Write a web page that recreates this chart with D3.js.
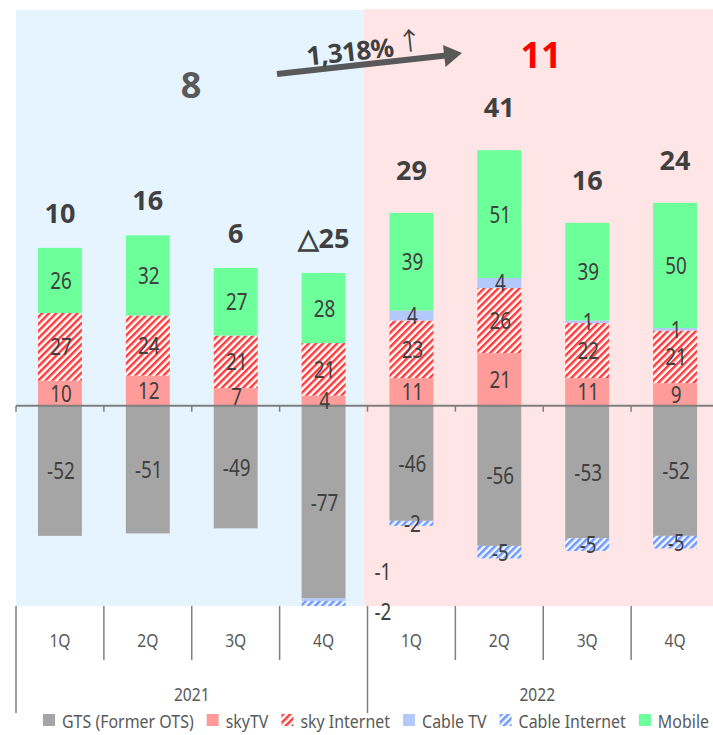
<!DOCTYPE html>
<html>
<head>
<meta charset="utf-8">
<script src="https://cdn.jsdelivr.net/npm/d3@7/dist/d3.min.js"></script>
<style>
  html, body { margin: 0; padding: 0; background: #ffffff; }
  svg { display: block; font-family: "Noto Sans", "Open Sans", sans-serif; }
</style>
</head>
<body>
<svg id="chart" width="713" height="735"></svg>
<script>
// Quarterly operating profit contribution by business line
const years = ["2021", "2022"];
const quarters = ["1Q", "2Q", "3Q", "4Q"];
const categories = ["2021-1Q", "2021-2Q", "2021-3Q", "2021-4Q", "2022-1Q", "2022-2Q", "2022-3Q", "2022-4Q"];

const seriesNames = ["GTS (Former OTS)", "skyTV", "sky Internet", "Cable TV", "Cable Internet", "Mobile"];
const gtsValues           = [-52, -51, -49, -77, -46, -56, -53, -52];
const skyTVValues         = [10, 12, 7, 4, 11, 21, 11, 9];
const skyInternetValues   = [27, 24, 21, 21, 23, 26, 22, 21];
const cableTVValues       = [0, 0, 0, -1, 4, 4, 1, 1];
const cableInternetValues = [0, 0, 0, -2, -2, -5, -5, -5];
const mobileValues        = [26, 32, 27, 28, 39, 51, 39, 50];

const totalLabels = ["10", "16", "6", "△25", "29", "41", "16", "24"];
const yearTotals = ["8", "11"];
const growthLabel = "1,318%";

const yDomain = [-80, 158];

// ---- layout ----
const svg = d3.select("#chart");
const W = 713;
const plotTop = 10, plotBottom = 606;

const x = d3.scaleBand().domain(categories).range([16, 719]).paddingInner(0.5).paddingOuter(0.25);
const y = d3.scaleLinear().domain(yDomain).range([plotBottom, plotTop]);
const step = x.step();
const boundary = i => 16 + i * step;
const cx = c => x(c) + x.bandwidth() / 2;

const colors = {
  "GTS (Former OTS)": "#a5a5a5",
  "skyTV": "#ff9b99",
  "sky Internet": "url(#hatchRed)",
  "Cable TV": "#b3c8fb",
  "Cable Internet": "url(#hatchBlue)",
  "Mobile": "#6cff9a"
};

// condensed text helper: real text, narrowed horizontally
function narrowText(sel, px, py, sx) {
  return sel.attr("transform", `translate(${px},${py}) scale(${sx},1)`);
}

// hatch patterns
const defs = svg.append("defs");
function hatch(id, color, bg) {
  const p = defs.append("pattern").attr("id", id)
    .attr("patternUnits", "userSpaceOnUse")
    .attr("width", 5).attr("height", 5)
    .attr("patternTransform", "rotate(45)");
  p.append("rect").attr("width", 5).attr("height", 5).attr("fill", bg);
  p.append("rect").attr("width", 2.5).attr("height", 5).attr("fill", color);
}
hatch("hatchRed", "#ff3b3b", "#ffffff");
hatch("hatchBlue", "#6f99ff", "#f2f6ff");

// year background panels
const yearBg = ["#e5f4ff", "#ffe5e5"];
const panelEdges = [16, boundary(4) - 4, W];
years.forEach((yr, i) => {
  svg.append("rect").attr("x", panelEdges[i]).attr("y", plotTop - i)
    .attr("width", panelEdges[i + 1] - panelEdges[i]).attr("height", plotBottom - plotTop + i)
    .attr("fill", yearBg[i]);
});

// build stacks: positives upward, negatives downward
const seriesValues = [gtsValues, skyTVValues, skyInternetValues, cableTVValues, cableInternetValues, mobileValues];
const segments = [];
const stackTop = [];
categories.forEach((c, ci) => {
  let pos = 0, neg = 0;
  seriesNames.forEach((s, si) => {
    const v = seriesValues[si][ci];
    if (v === 0) return;
    let y0, y1;
    if (v > 0) { y0 = pos; y1 = pos + v; pos = y1; }
    else { y0 = neg; y1 = neg + v; neg = y1; }
    segments.push({ cat: c, ci, series: s, value: v, y0, y1 });
  });
  stackTop.push(pos);
});

svg.append("g").selectAll("rect").data(segments).join("rect")
  .attr("x", d => x(d.cat))
  .attr("width", x.bandwidth())
  .attr("y", d => y(Math.max(d.y0, d.y1)))
  .attr("height", d => Math.abs(y(d.y0) - y(d.y1)))
  .attr("fill", d => colors[d.series]);

// zero axis with small ticks
const axisG = svg.append("g");
axisG.append("line").attr("x1", 16).attr("x2", W).attr("y1", y(0)).attr("y2", y(0))
  .attr("stroke", "#7f7f7f").attr("stroke-width", 2);
d3.range(0, 8).forEach(i => {
  axisG.append("line").attr("x1", boundary(i)).attr("x2", boundary(i))
    .attr("y1", y(0)).attr("y2", y(0) + 6)
    .attr("stroke", "#7f7f7f").attr("stroke-width", 1.5);
});

// segment value labels
const outsideCat = "2021-4Q";
const isCable = d => d.series === "Cable TV" || d.series === "Cable Internet";
const insideSegs = segments.filter(d => !(d.cat === outsideCat && isCable(d)));
svg.append("g").attr("fill", "#404040").attr("font-size", 23).attr("text-anchor", "middle")
  .selectAll("text").data(insideSegs).join("text")
  .each(function (d) { narrowText(d3.select(this), cx(d.cat) + 1, y((d.y0 + d.y1) / 2) + 8.5, 0.82); })
  .text(d => d.value);

// small cable segments of 2021 4Q labelled beside the bar
const outsideSegs = segments.filter(d => d.cat === outsideCat && isCable(d));
svg.append("g").attr("fill", "#404040").attr("font-size", 23)
  .selectAll("text").data(outsideSegs).join("text")
  .each(function (d, i) { narrowText(d3.select(this), x(d.cat) + x.bandwidth() + 29, y(d.y1) - 21 + i * 35, 0.82); })
  .text(d => d.value);

// quarter totals above bars
svg.append("g").attr("fill", "#404040").attr("font-size", 27).attr("font-weight", "bold")
  .attr("text-anchor", "middle")
  .selectAll("text").data(categories).join("text")
  .attr("x", c => cx(c))
  .attr("y", (c, i) => y(stackTop[i]) - (i < 4 ? 25 : 33))
  .text((c, i) => totalLabels[i]);

// annual totals
svg.append("text").attr("x", 191).attr("y", 98).attr("text-anchor", "middle")
  .attr("font-size", 36).attr("font-weight", "bold").attr("fill", "#595959").text(yearTotals[0]);
svg.append("text").attr("x", 541).attr("y", 68).attr("text-anchor", "middle")
  .attr("font-size", 36).attr("font-weight", "bold").attr("fill", "#ff0000").text(yearTotals[1]);

// growth arrow
const arrowG = svg.append("g");
arrowG.append("line").attr("x1", 277).attr("y1", 74).attr("x2", 446).attr("y2", 55.5)
  .attr("stroke", "#595959").attr("stroke-width", 6);
arrowG.append("path").attr("d", "M462,53 L443,45 L445.5,67 Z").attr("fill", "#595959");
const gl = arrowG.append("g").attr("transform", "translate(351,61) rotate(-6)");
gl.append("text").attr("text-anchor", "middle").attr("font-size", 26).attr("font-weight", "bold")
  .attr("fill", "#404040").attr("letter-spacing", -0.5).text(growthLabel);
gl.append("text").attr("x", 48).attr("y", -5).attr("font-size", 25)
  .attr("font-family", "'Noto Sans CJK JP', 'Noto Sans CJK SC', sans-serif")
  .attr("fill", "#404040").text("↑");

// category axis below the plot
const catAxis = svg.append("g").attr("stroke", "#7f7f7f").attr("stroke-width", 1.5);
d3.range(0, 8).forEach(i => {
  const full = i % 4 === 0;
  catAxis.append("line").attr("x1", boundary(i)).attr("x2", boundary(i))
    .attr("y1", plotBottom).attr("y2", full ? 713 : 660);
});
svg.append("g").attr("fill", "#595959").attr("font-size", 19).attr("text-anchor", "middle")
  .selectAll("text").data(categories).join("text")
  .each(function (c) { narrowText(d3.select(this), cx(c), 647, 0.82); })
  .text((c, i) => quarters[i % 4]);
svg.append("g").attr("fill", "#595959").attr("font-size", 19).attr("text-anchor", "middle")
  .selectAll("text").data(years).join("text")
  .each(function (yr, i) {
    narrowText(d3.select(this), (boundary(i * 4) + Math.min(boundary(i * 4 + 4), W)) / 2 - (i ? 3 : 0), 701, 0.82);
  })
  .text(d => d);

// legend
const legendScale = 0.84;
const legend = svg.append("g").attr("transform", "translate(43,0)");
let lx = 0;
seriesNames.forEach(s => {
  const item = legend.append("g").attr("transform", `translate(${lx},0)`);
  item.append("rect").attr("x", 0).attr("y", 714).attr("width", 12).attr("height", 12)
    .attr("fill", colors[s]);
  const t = item.append("text").attr("font-size", 19).attr("fill", "#595959").text(s);
  narrowText(t, 19, 728, legendScale);
  lx += 19 + t.node().getComputedTextLength() * legendScale + 13;
});
</script>
</body>
</html>
